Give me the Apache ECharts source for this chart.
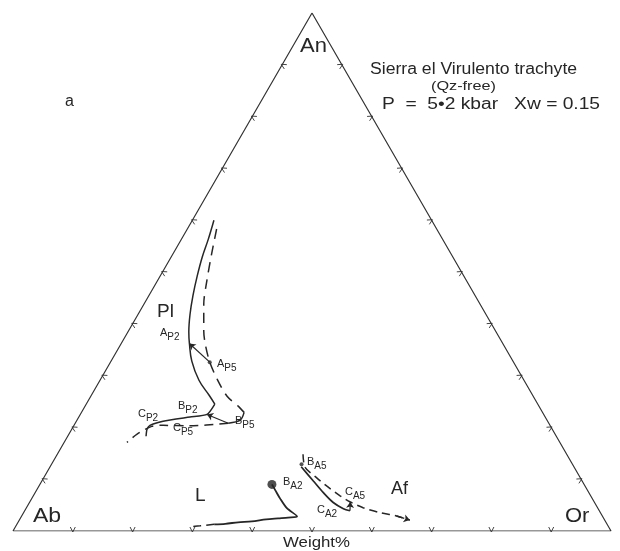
<!DOCTYPE html>
<html>
<head>
<meta charset="utf-8">
<script src="https://cdn.jsdelivr.net/npm/echarts@6/dist/echarts.min.js"></script>
<style>
  html, body { margin: 0; padding: 0; background: #fff; }
  #chart { width: 620px; height: 551px; }
</style>
</head>
<body>
<div id="chart"></div>
<script>
// compositions as [An, Or] in weight %, Ab = 100 - An - Or
const corners = [[0, 0], [0, 100], [100, 0], [0, 0]]
const tickPcts = [10, 20, 30, 40, 50, 60, 70, 80, 90]

const plag2 = [[60.0, 3.6], [56.3, 4.5], [52.9, 5.2], [49.2, 6.2], [45.5, 7.35], [41.8, 8.7],
  [38.4, 10.2], [36.2, 11.4], [32.8, 13.5], [29.1, 16.55], [26.2, 19.7], [24.5, 21.5]]
const plag2Low = [[24.5, 21.5], [22.5, 21.2], [22.0, 18.6], [21.2, 14.5], [20.4, 12.7],
  [19.6, 12.6], [18.3, 13.1]]
const plag5 = [[58.3, 4.9], [53.4, 6.5], [48.2, 8.3], [43.8, 10.0], [38.6, 12.6], [36.1, 14.1],
  [32.6, 16.6], [29.3, 19.5], [26.0, 22.8], [24.1, 25.6], [22.9, 27.2]]
const plag5Hook = [[22.9, 27.2], [21.4, 27.3], [20.8, 25.6]]
const plag5Low = [[20.8, 25.6], [20.3, 19.4], [20.4, 14.9], [20.2, 13.1], [18.7, 11.4], [17.1, 10.5]]

const alk2 = [[12.4, 42.0], [9.65, 45.4], [7.4, 48.2], [5.5, 50.8], [4.3, 53.1], [3.9, 54.4]]
const alk5 = [[14.8, 41.1], [12.3, 42.7], [10.3, 45.6], [8.7, 48.1], [6.8, 51.3], [5.6, 53.6],
  [4.5, 56.3], [3.55, 59.6], [2.9, 62.7], [2.1, 65.3]]

const liq2 = [[9.0, 38.8], [7.9, 39.9], [6.3, 41.5], [4.4, 43.6], [2.8, 46.1], [2.6, 44.7],
  [2.45, 43.1], [2.26, 41.2], [1.87, 39.0], [1.68, 36.8], [1.39, 34.8], [1.29, 33.0]]
const liq5 = [[1.29, 33.0], [1.0, 30.8], [0.81, 28.9]]

// tie lines, drawn from first to second point
const ties = [
  [[32.6, 16.6], [36.2, 11.4]],
  [[20.8, 25.6], [22.5, 21.2]],
  [[3.9, 54.4], [5.6, 53.6]]
]
const smallDots = [[32.6, 16.6], [12.9, 41.8]]
const bigDots = [[9.0, 38.8]]

const tern = (p) => [p[1] + p[0] / 2, p[0] * Math.sqrt(3) / 2]
const ink = '#262626'
const font = '"Liberation Sans", Arial, sans-serif'

const chart = echarts.init(document.getElementById('chart'))

const tickData = []
tickPcts.forEach(k => {
  tickData.push([k, 0, 0])
  tickData.push([0, k, 1])
  tickData.push([k, 100 - k, 2])
})
const normals = [[0.866, 0.5], [0, -1], [-0.866, 0.5]]

function line (pts, dash, w, smooth) {
  return {
    type: 'line',
    data: pts.map(tern),
    symbol: 'none',
    smooth: smooth === undefined ? 0.3 : smooth,
    silent: true,
    lineStyle: { color: ink, width: w || 1.5, type: dash || 'solid' }
  }
}

function sub (x, y, main, s) {
  return {
    type: 'text',
    left: x,
    top: y,
    style: {
      text: '{m|' + main + '}{s|' + s + '}',
      rich: {
        m: { fontSize: 11, fontFamily: font, fill: ink, verticalAlign: 'top', padding: [0, 0, 4, 0] },
        s: { fontSize: 10, fontFamily: font, fill: ink, verticalAlign: 'bottom', padding: [4, 0, 0, 0] }
      }
    }
  }
}

function txt (x, y, t, size, sx) {
  return {
    type: 'text', x: x, y: y, scaleX: sx || 1,
    style: { text: t, fontSize: size, fontFamily: font, fill: ink }
  }
}

const option = {
  animation: false,
  grid: { left: 13, top: 13, width: 598, height: 518 },
  xAxis: { type: 'value', min: 0, max: 100, show: false },
  yAxis: { type: 'value', min: 0, max: 100 * Math.sqrt(3) / 2, show: false },
  series: [
    {
      type: 'line',
      data: corners.map(tern),
      symbol: 'none',
      silent: true,
      lineStyle: { color: '#333', width: 1.2 }
    },
    {
      type: 'custom',
      silent: true,
      data: tickData,
      renderItem (params, api) {
        const p = api.coord(tern([api.value(0), api.value(1)]))
        const n = normals[api.value(2)]
        const t = [-n[1], n[0]]
        return {
          type: 'polyline',
          shape: {
            points: [
              [p[0] + 4 * n[0] + 2.5 * t[0], p[1] + 4 * n[1] + 2.5 * t[1]],
              [p[0] - 1 * n[0], p[1] - 1 * n[1]],
              [p[0] + 4 * n[0] - 2.5 * t[0], p[1] + 4 * n[1] - 2.5 * t[1]]
            ]
          },
          style: { stroke: '#444', lineWidth: 1, fill: null }
        }
      }
    },
    line(plag2, null, 1.5, 0.4),
    line(plag2Low, null, 1.5, 0.2),
    line(plag5, [10, 7]),
    line(plag5Hook),
    line(plag5Low, [9, 6]),
    line(alk2, null, 1.7),
    line(alk5, [8, 5]),
    line(liq2, null, 1.8),
    line(liq5, [8, 5]),
    {
      type: 'lines',
      coordinateSystem: 'cartesian2d',
      silent: true,
      symbol: ['none', 'arrow'],
      symbolSize: 6,
      lineStyle: { color: ink, width: 1.2, opacity: 1 },
      data: ties.map(t => ({ coords: t.map(tern) }))
    },
    {
      type: 'lines',
      coordinateSystem: 'cartesian2d',
      silent: true,
      symbol: ['none', 'arrow'],
      symbolSize: 6,
      lineStyle: { color: ink, width: 1.5, type: [8, 5], opacity: 1 },
      data: [{ coords: alk5.slice(-2).map(tern) }]
    },
    {
      type: 'scatter',
      silent: true,
      symbolSize: 4,
      itemStyle: { color: ink },
      data: smallDots.map(tern)
    },
    {
      type: 'scatter',
      silent: true,
      symbolSize: 9,
      itemStyle: { color: '#222' },
      data: bigDots.map(tern)
    }
  ],
  graphic: [
    txt(300, 36, 'An', 20, 1.1),
    txt(33, 506, 'Ab', 20, 1.15),
    txt(565, 506, 'Or', 20, 1.1),
    txt(65, 94, 'a', 16),
    txt(157, 302, 'Pl', 19),
    txt(195, 486, 'L', 19),
    txt(391, 480, 'Af', 18),
    txt(370, 62, 'Sierra el Virulento trachyte', 16, 1.1),
    txt(431, 80, '(Qz-free)', 13, 1.25),
    txt(382, 97, 'P  =  5\u20222 kbar   Xw = 0.15', 16, 1.2),
    txt(283, 536, 'Weight%', 14, 1.2),
    sub(160, 327, 'A', 'P2'),
    sub(217, 358, 'A', 'P5'),
    sub(178, 400, 'B', 'P2'),
    sub(138, 408, 'C', 'P2'),
    sub(173, 422, 'C', 'P5'),
    sub(235, 415, 'B', 'P5'),
    sub(307, 456, 'B', 'A5'),
    sub(283, 476, 'B', 'A2'),
    sub(345, 486, 'C', 'A5'),
    sub(317, 504, 'C', 'A2')
  ]
}
chart.setOption(option)
</script>
</body>
</html>
